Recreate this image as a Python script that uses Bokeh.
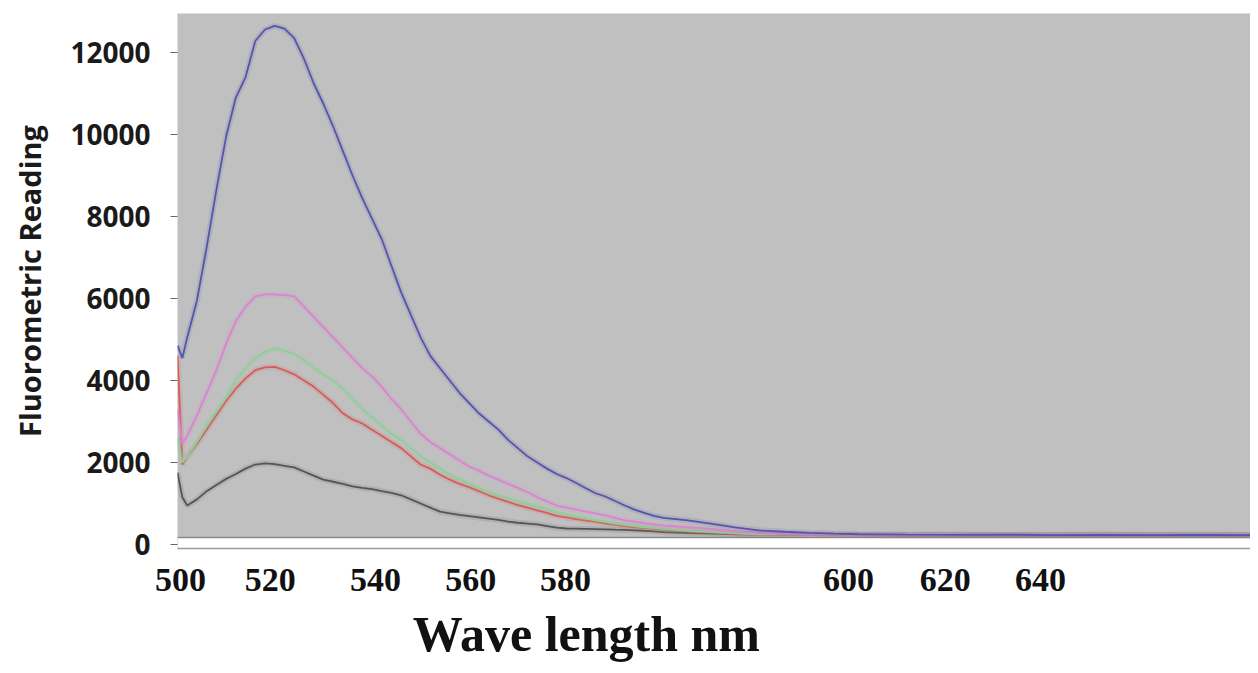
from bokeh.plotting import figure
from bokeh.models import (Range1d, FixedTicker, BoxAnnotation, Span, LinearAxis,
                          ColumnDataSource)
from bokeh.embed import file_html
from bokeh.resources import INLINE

# ---------------- data ----------------
wavelength = [500, 501, 502, 504, 506, 508, 510, 512, 514, 516, 518, 520, 522, 524, 526, 528,
              530, 532, 534, 536, 538, 540, 542, 544, 546, 548, 550, 552, 554, 556, 558, 560,
              562, 564, 566, 568, 570, 572, 574, 576, 578, 580, 582, 584, 586, 588, 590, 592,
              594, 596, 598, 600, 605, 610, 615, 620, 625, 630, 635, 640, 650, 660, 670, 680,
              690, 700, 710, 721]

blue = [4850, 4550, 5050, 5950, 7250, 8650, 9950, 10900, 11400, 12280, 12560, 12650, 12580, 12350,
        11850, 11250, 10750, 10200, 9600, 9000, 8450, 7950, 7450, 6800, 6150, 5600, 5050, 4600,
        4300, 4000, 3700, 3450, 3200, 3000, 2800, 2550, 2350, 2150, 2000, 1850, 1720, 1620, 1500,
        1370, 1250, 1170, 1060, 950, 850, 770, 700, 650, 590, 500, 410, 340, 310, 285, 265, 250,
        240, 235, 240, 230, 235, 230, 235, 230]

magenta = [3300, 2460, 2650, 3150, 3700, 4250, 4900, 5450, 5800, 6050, 6100, 6100, 6080, 6050,
           5800, 5550, 5300, 5050, 4800, 4550, 4300, 4100, 3850, 3550, 3300, 3000, 2700, 2500,
           2350, 2200, 2050, 1900, 1800, 1680, 1580, 1480, 1380, 1280, 1150, 1050, 950, 900, 850,
           800, 760, 710, 650, 590, 560, 520, 490, 460, 420, 380, 320, 280, 260, 250, 245, 240,
           235, 240, 230, 235, 230, 235, 230, 235]

green = [2600, 2000, 2150, 2500, 2900, 3250, 3600, 4000, 4300, 4550, 4700, 4780, 4720, 4650,
         4500, 4300, 4150, 4000, 3800, 3550, 3300, 3100, 2900, 2700, 2550, 2350, 2150, 2000,
         1850, 1700, 1600, 1480, 1380, 1280, 1200, 1130, 1050, 1000, 930, 860, 790, 740, 690,
         640, 590, 550, 510, 480, 450, 420, 400, 380, 330, 300, 270, 250, 245, 240, 240, 235,
         235, 230, 235, 230, 230, 235, 230, 230]

red = [4600, 1950, 2150, 2450, 2800, 3150, 3500, 3800, 4050, 4250, 4320, 4330, 4250, 4150,
       4000, 3850, 3650, 3450, 3200, 3050, 2950, 2800, 2650, 2500, 2350, 2150, 1950, 1850,
       1700, 1580, 1480, 1400, 1300, 1200, 1120, 1040, 960, 900, 830, 770, 700, 660, 620,
       580, 550, 510, 480, 450, 420, 400, 380, 360, 320, 290, 260, 240, 240, 235, 235, 230,
       230, 235, 230, 230, 235, 230, 230, 230]

black = [1750, 1150, 950, 1100, 1300, 1450, 1600, 1720, 1850, 1950, 1980, 1960, 1920, 1880,
         1780, 1680, 1580, 1530, 1480, 1420, 1380, 1350, 1300, 1260, 1200, 1100, 1000, 900,
         800, 760, 720, 690, 660, 630, 600, 560, 530, 510, 490, 450, 410, 390, 385, 380, 375,
         370, 360, 355, 345, 335, 320, 300, 280, 265, 250, 240, 235, 230, 230, 230, 225, 230,
         225, 225, 230, 225, 225, 225]

y_ticks = [0, 2000, 4000, 6000, 8000, 10000, 12000]
x_tick_labels = ["500", "520", "540", "560", "580", "600", "620", "640"]
# where each hand-pasted wavelength label sits along the instrument's axis
x_tick_positions = [500.6, 519.1, 540.7, 560.3, 579.8, 638.0, 657.9, 677.5]
x_title = "Wave length nm"
x_title_position = 584.1

# ---------------- figure ----------------
p = figure(width=1250, height=665, output_backend="svg", toolbar_location=None,
           x_range=Range1d(500, 720.7), y_range=Range1d(-98, 12951),
           min_border_left=177, min_border_right=0, min_border_top=13, min_border_bottom=117,
           background_fill_color="#c0c0c0", border_fill_color="white",
           outline_line_color=None)
p.grid.visible = False

# white strip under the instrument plot area
p.add_layout(BoxAnnotation(top=171, fill_color="white", fill_alpha=1.0, line_color=None,
                           level="underlay"))
p.add_layout(Span(location=171, dimension="width", line_color="#8a8a8a", line_width=1.5,
                  level="underlay"))

src = ColumnDataSource(dict(x=wavelength, blue=blue, magenta=magenta, green=green,
                            red=red, black=black))

series = [("black", "#555555"), ("red", "#d65c5a"), ("green", "#8ccf98"),
          ("magenta", "#d884d2"), ("blue", "#5654ac")]
for name, col in series:
    p.line("x", name, source=src, line_color=col, line_width=6, line_alpha=0.15)
    p.line("x", name, source=src, line_color=col, line_width=1.8)

# y axis
ya = p.yaxis[0]
ya.ticker = FixedTicker(ticks=y_ticks)
ya.axis_line_color = None
ya.major_tick_line_color = "#666666"
ya.major_tick_in = 0
ya.major_tick_out = 7
ya.minor_tick_line_color = None
ya.major_label_standoff = 20
ya.major_label_text_font = "Open Sans"
ya.major_label_text_font_style = "bold"
ya.major_label_text_font_size = "28px"
ya.major_label_text_color = "#1a1a1a"
ya.axis_label = "Fluorometric Reading"
ya.axis_label_text_font = "Open Sans"
ya.axis_label_text_font_style = "bold"
ya.axis_label_text_font_size = "29px"
ya.axis_label_text_color = "#1a1a1a"
ya.axis_label_standoff = 18

# x axis
xa = p.xaxis[0]
xa.ticker = FixedTicker(ticks=x_tick_positions)
xa.major_label_overrides = {pos: lab for pos, lab in zip(x_tick_positions, x_tick_labels)}
xa.axis_line_color = "#9a9a9a"
xa.axis_line_width = 1.5
xa.major_tick_line_color = None
xa.major_tick_out = 0
xa.major_tick_in = 0
xa.minor_tick_line_color = None
xa.major_label_standoff = 20
xa.major_label_text_font = "Liberation Serif"
xa.major_label_text_font_style = "bold"
xa.major_label_text_font_size = "34px"
xa.major_label_text_color = "#111111"

# x-axis title: a second, bare axis below the first, whose single label is the title
ta = LinearAxis(ticker=FixedTicker(ticks=[x_title_position]),
                major_label_overrides={x_title_position: x_title},
                axis_line_color=None, major_tick_line_color=None,
                minor_tick_line_color=None, major_tick_in=0, major_tick_out=0,
                major_label_standoff=12,
                major_label_text_font="Liberation Serif",
                major_label_text_font_style="bold",
                major_label_text_font_size="50px",
                major_label_text_color="#111111")
p.add_layout(ta, "below")

open("out.html", "w").write(file_html(p, INLINE))
